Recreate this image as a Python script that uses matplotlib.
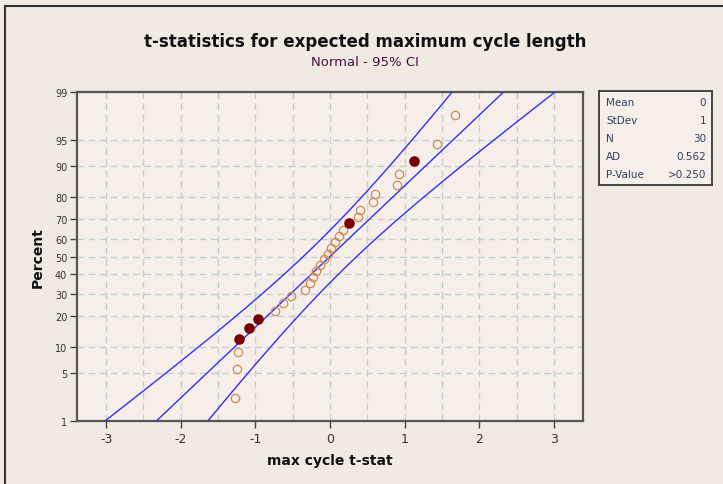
import numpy as np
import matplotlib
matplotlib.use("Agg")
import matplotlib.pyplot as plt
from matplotlib.lines import Line2D
from statistics import NormalDist

# ---------------- data ----------------
T_STAT = [-1.27, -1.24, -1.23, -1.22, -1.08, -0.96, -0.74, -0.63, -0.52, -0.34,
          -0.27, -0.23, -0.19, -0.13, -0.08, -0.03, 0.01, 0.07, 0.12, 0.18,
          0.26, 0.38, 0.40, 0.57, 0.60, 0.90, 0.93, 1.13, 1.44, 1.68]
HIGHLIGHT = [3, 4, 5, 20, 27]          # indices of filled points
MEAN = 0.0
STDEV = 1.0
N = 30
AD = "0.562"
PVALUE = ">0.250"
Y_TICKS = [1, 5, 10, 20, 30, 40, 50, 60, 70, 80, 90, 95, 99]
X_TICKS = [-3, -2, -1, 0, 1, 2, 3]

nd = NormalDist()
_ppf = np.vectorize(lambda q: nd.inv_cdf(min(max(q, 1e-9), 1 - 1e-9)), otypes=[float])
_cdf = np.vectorize(lambda z: nd.cdf(z), otypes=[float])

def fwd(p):
    return _ppf(np.asarray(p, dtype=float) / 100.0)

def inv(z):
    return _cdf(np.asarray(z, dtype=float)) * 100.0

FIG_BG = "#f0eae3"
AX_BG = "#f6efe9"

fig = plt.figure(figsize=(7.23, 4.85), dpi=100, facecolor=FIG_BG)
ax = fig.add_axes([77 / 723, 1 - 422 / 485, (583 - 77) / 723, (422 - 93) / 485])
ax.set_facecolor(AX_BG)
ax.set_yscale("function", functions=(fwd, inv))

x = np.sort(np.array(T_STAT))
ranks = np.arange(1, N + 1)
pct = (ranks - 0.3) / (N + 0.4) * 100.0

# fitted line and 95% CI
zz = np.linspace(-2.5, 2.5, 400)
pp = inv(zz)
xfit = MEAN + zz * STDEV
se = STDEV * np.sqrt(1.0 / N + zz ** 2 / (2.0 * N))
ax.plot(xfit, pp, color="#3030f8", lw=1.0, zorder=3)
ax.plot(xfit - 1.96 * se, pp, color="#3030f8", lw=1.0, zorder=3)
ax.plot(xfit + 1.96 * se, pp, color="#3030f8", lw=1.0, zorder=3)

mask = np.zeros(N, dtype=bool)
mask[HIGHLIGHT] = True
ax.plot(x[~mask], pct[~mask], "o", ms=6.0, mfc="none", mec="#cc8a55", mew=0.9, zorder=4)
ax.plot(x[mask], pct[mask], "o", ms=6.6, mfc="#7a0000", mec="#7a0000", zorder=5)

ax.set_xlim(-3.39, 3.39)
ax.set_ylim(1, 99)
ax.set_yticks(Y_TICKS)
ax.set_yticklabels([str(v) for v in Y_TICKS])
ax.set_xticks(X_TICKS)
ax.set_xticklabels([str(v) for v in X_TICKS])
ax.set_xticks(np.arange(-3, 3.01, 0.5), minor=True)
ax.set_yticks([], minor=True)
ax.tick_params(axis="x", which="major", length=5, width=1, color="#444444",
               labelsize=9, labelcolor="#333333", pad=3)
ax.tick_params(axis="x", which="minor", length=0)
ax.tick_params(axis="y", which="major", length=5, width=1, color="#444444",
               labelsize=7, labelcolor="#333333", pad=2)
ax.grid(True, which="both", axis="x", ls=(0, (5, 3)), color="#c4cfcf", lw=1.0, zorder=1)
ax.grid(True, which="major", axis="y", ls=(0, (5, 3)), color="#c4cfcf", lw=1.0, zorder=1)
ax.set_axisbelow(True)
for s in ax.spines.values():
    s.set_color("#555555")
    s.set_linewidth(1.6)

ax.set_xlabel("max cycle t-stat", fontsize=10, fontweight="bold", color="#111111", labelpad=6)
ax.set_ylabel("Percent", fontsize=10, fontweight="bold", color="#111111", labelpad=7)

fig.text(365 / 723, 1 - 42 / 485, "t-statistics for expected maximum cycle length",
         ha="center", va="center", fontsize=12, fontweight="bold", color="#111111")
fig.text(365 / 723, 1 - 62 / 485, "Normal - 95% CI", ha="center", va="center",
         fontsize=9.5, color="#4a0f3a")

# stats box
bx = fig.add_axes([599 / 723, 1 - 186 / 485, 113 / 723, 94 / 485])
bx.set_facecolor(AX_BG)
bx.set_xticks([])
bx.set_yticks([])
for s in bx.spines.values():
    s.set_color("#444444")
    s.set_linewidth(1.4)
labels = ["Mean", "StDev", "N", "AD", "P-Value"]
values = [f"{MEAN:g}", f"{STDEV:g}", f"{N}", AD, PVALUE]
ys = [1 - (r - 92) / 94 for r in [103, 121, 139, 157, 175]]
for lab, val, yy in zip(labels, values, ys):
    bx.text(0.062, yy, lab, transform=bx.transAxes, ha="left", va="center",
            fontsize=7.5, color="#2f3f60")
    bx.text(0.95, yy, val, transform=bx.transAxes, ha="right", va="center",
            fontsize=7.5, color="#2f3f60")

# outer border (top and left visible)
fig.add_artist(Line2D([5 / 723, 1], [1 - 7 / 485, 1 - 7 / 485], transform=fig.transFigure,
                      color="#333333", lw=1.5))
fig.add_artist(Line2D([5 / 723, 5 / 723], [0, 1 - 7 / 485], transform=fig.transFigure,
                      color="#333333", lw=1.5))

fig.savefig("out.png", dpi=100, facecolor=FIG_BG)
